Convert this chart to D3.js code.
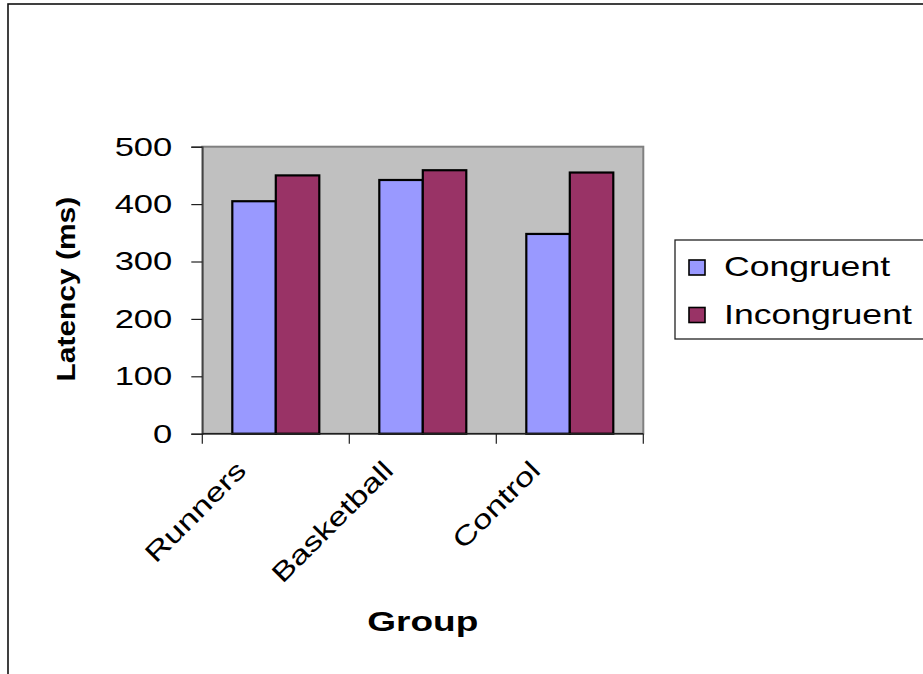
<!DOCTYPE html>
<html>
<head>
<meta charset="utf-8">
<script src="https://cdn.jsdelivr.net/npm/d3@7"></script>
<style>
  html, body { margin: 0; padding: 0; background: #fff; }
  svg { display: block; }
  text { font-family: "Liberation Sans", Arial, sans-serif; fill: #000; }
</style>
</head>
<body>
<svg id="chart" width="923" height="674"></svg>
<script>
// Reaction latency by group and trial type
const groups = ["Runners", "Basketball", "Control"];
const seriesNames = ["Congruent", "Incongruent"];
const congruent = [405, 442, 348];
const incongruent = [450, 459, 455];
const yTicks = [0, 100, 200, 300, 400, 500];
const seriesColors = ["#9999FF", "#993366"];

const svg = d3.select("#chart");
const W = 923, H = 674;

// chart-area frame
svg.append("rect")
  .attr("x", 8).attr("y", 4)
  .attr("width", W + 10).attr("height", H + 10)
  .attr("fill", "#fff").attr("stroke", "#111").attr("stroke-width", 1.6);

const plot = { left: 202.3, right: 643.3, top: 146.7, bottom: 433.7 };

const x0 = d3.scaleBand().domain(groups).range([plot.left, plot.right]).padding(0);
const x1 = d3.scaleBand().domain(seriesNames).range([0, x0.bandwidth()])
  .paddingInner(0).paddingOuter(0.69);
const y = d3.scaleLinear().domain([0, 500]).range([plot.bottom, plot.top]);

const rows = groups.map((g, i) => ({ group: g, values: [congruent[i], incongruent[i]] }));

// plot background
svg.append("rect")
  .attr("x", plot.left).attr("y", plot.top)
  .attr("width", plot.right - plot.left).attr("height", plot.bottom - plot.top)
  .attr("fill", "#C0C0C0").attr("stroke", "#808080").attr("stroke-width", 2);

// bars
const gGroups = svg.append("g").selectAll("g").data(rows).join("g")
  .attr("transform", d => `translate(${x0(d.group)},0)`);
gGroups.selectAll("rect")
  .data(d => d.values.map((v, k) => ({ name: seriesNames[k], value: v, k })))
  .join("rect")
  .attr("x", d => x1(d.name))
  .attr("y", d => y(d.value))
  .attr("width", x1.bandwidth())
  .attr("height", d => y(0) - y(d.value))
  .attr("fill", d => seriesColors[d.k])
  .attr("stroke", "#000").attr("stroke-width", 2.2);

// y axis
const sxY = 1.33;
const yAxis = svg.append("g")
  .attr("transform", `translate(${plot.left},0)`)
  .call(d3.axisLeft(y).tickValues(yTicks).tickSize(11).tickFormat(d3.format("d")));
yAxis.select(".domain").attr("stroke", "#404040").attr("stroke-width", 1.5);
yAxis.selectAll(".tick line").attr("stroke", "#202020").attr("stroke-width", 1.2);
yAxis.selectAll(".tick text")
  .attr("font-size", 26).attr("font-family", "Liberation Sans, Arial, sans-serif")
  .attr("x", -30 / sxY).attr("dy", "0.32em")
  .attr("transform", `scale(${sxY},1)`);

// x axis: line and ticks at category boundaries
const xg = svg.append("g");
xg.append("line")
  .attr("x1", plot.left).attr("x2", plot.right)
  .attr("y1", plot.bottom).attr("y2", plot.bottom)
  .attr("stroke", "#202020").attr("stroke-width", 1.5);
const bounds = groups.map(g => x0(g)).concat([x0(groups[groups.length - 1]) + x0.bandwidth()]);
xg.selectAll("line.tick").data(bounds).join("line")
  .attr("class", "tick")
  .attr("x1", d => d).attr("x2", d => d)
  .attr("y1", plot.bottom).attr("y2", plot.bottom + 10)
  .attr("stroke", "#202020").attr("stroke-width", 1.2);

// rotated category labels
xg.selectAll("text.cat").data(groups).join("text")
  .attr("class", "cat")
  .attr("font-size", 26.5)
  .attr("text-anchor", "end")
  .attr("transform", d => `translate(${x0(d) + x0.bandwidth() / 2 - 28},472) rotate(-45) scale(1.3,1)`)
  .text(d => d);

// axis titles
svg.append("text")
  .attr("font-size", 27).attr("font-weight", "bold").attr("text-anchor", "middle")
  .attr("transform", `translate(${(plot.left + plot.right) / 2},631) scale(1.37,1)`)
  .text("Group");

svg.append("text")
  .attr("font-size", 26.5).attr("font-weight", "bold").attr("text-anchor", "middle")
  .attr("transform", `translate(74.5,${(plot.top + plot.bottom) / 2 - 1}) rotate(-90) scale(1.13,1)`)
  .text("Latency (ms)");

// legend
const legend = svg.append("g");
legend.append("rect")
  .attr("x", 675).attr("y", 240).attr("width", 270).attr("height", 99)
  .attr("fill", "#fff").attr("stroke", "#222").attr("stroke-width", 1.3);
const items = legend.selectAll("g.item").data(seriesNames).join("g")
  .attr("class", "item")
  .attr("transform", (d, i) => `translate(0,${276 + i * 47.5})`);
items.append("rect")
  .attr("x", 689).attr("y", -16).attr("width", 16).attr("height", 15)
  .attr("fill", (d, i) => seriesColors[i]).attr("stroke", "#000").attr("stroke-width", 1.6);
items.append("text")
  .attr("font-size", 28)
  .attr("transform", "translate(724,0) scale(1.27,1)")
  .text(d => d);
</script>
</body>
</html>
